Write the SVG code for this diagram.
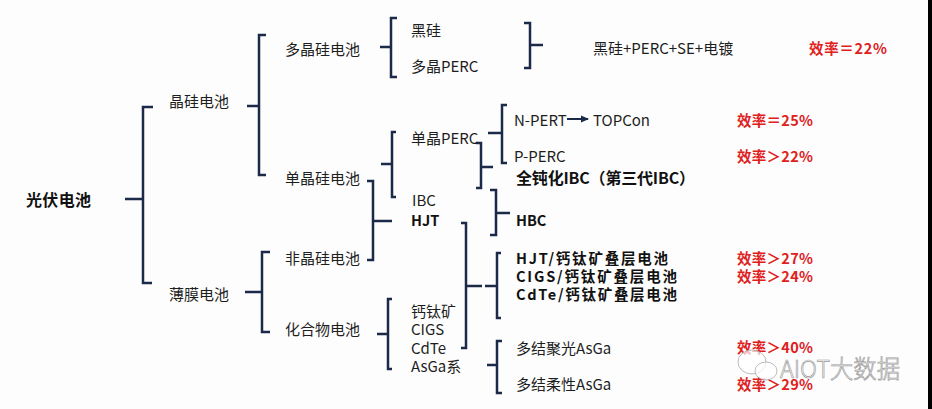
<svg xmlns="http://www.w3.org/2000/svg" width="932" height="409" viewBox="0 0 932 409">
<style>
text{font-family:"Noto Sans CJK SC","Liberation Sans",sans-serif;dominant-baseline:central;fill:#1e1e1e;font-size:15px}
.b{font-weight:bold;font-size:16px;fill:#111}
.t{font-weight:bold;font-size:14.5px;fill:#111}
.r{font-weight:bold;font-size:14.5px;fill:#e0201c}
.ln{fill:none;stroke:#1c2a4a;stroke-width:2.5;stroke-linejoin:miter;stroke-linecap:butt}
.wm{font-size:25px;font-weight:300;fill:#ffffff;fill-opacity:0.75;stroke:#9a9a9a;stroke-width:0.7}
</style>
<defs>
<marker id="ah" markerWidth="8" markerHeight="8" refX="7" refY="4" orient="auto" markerUnits="userSpaceOnUse">
<path d="M0,0.5 L8,4 L0,7.5 Z" fill="#1c2a4a"/>
</marker>
</defs>
<rect width="932" height="409" fill="#fdfdfd"/>
<rect x="928" y="0" width="4" height="409" fill="#000"/>
<g id="connectors" class="ln">
<path d="M125,199 H143 M153,107 H143 V283 H152"/>
<path d="M247,106 H259 M266,35 H259 V175 H266"/>
<path d="M245,292 H262 M270,252 H262 V332 H270"/>
<path d="M380,47 H391 M397,18 H391 V77 H397"/>
<path d="M524,23 H530 V68 H524 M530,45 H543"/>
<path d="M381,164 H392 M396,132 H392 V197 H396"/>
<path d="M476,143 H481 V188 H476 M481,167 H493"/>
<path d="M488,133 H502 M507,105 H502 V163 H507"/>
<path d="M367,181 H373 V260 H367 M373,221 H392"/>
<path d="M490,190 H496 V235 H490 M496,213 H510"/>
<path d="M461,223 H466 V348 H461 M466,286 H482 M485,286 H496"/>
<path d="M501,253 H497 V318 H501"/>
<path d="M377,334 H388 M392,299 H388 V369 H392"/>
<path d="M487,365 H497 M502,341 H497 V393 H502"/>
<path d="M567,119 H588" stroke-width="2" marker-end="url(#ah)"/>
</g>
<g id="n-pv"><text class="b" x="26" y="199" textLength="65" lengthAdjust="spacing">光伏电池</text></g>
<g id="n-jinggui"><text x="169" y="100">晶硅电池</text></g>
<g id="n-bomo"><text x="169" y="293">薄膜电池</text></g>
<g id="n-duojinggui"><text x="285" y="48">多晶硅电池</text></g>
<g id="n-danjinggui"><text x="285" y="177">单晶硅电池</text></g>
<g id="n-feijinggui"><text x="285" y="257">非晶硅电池</text></g>
<g id="n-huahewu"><text x="285" y="328">化合物电池</text></g>
<g id="n-heigui"><text x="411" y="29">黑硅</text></g>
<g id="n-duojingperc"><text x="411" y="65">多晶PERC</text></g>
<g id="n-heigui-combo"><text x="593" y="47">黑硅+PERC+SE+电镀</text></g>
<g id="n-danjingperc"><text x="411" y="137">单晶PERC</text></g>
<g id="n-ibc"><text x="412" y="199">IBC</text></g>
<g id="n-hjt"><text class="t" x="411" y="219" font-size="15">HJT</text></g>
<g id="n-npert"><text x="514" y="119">N-PERT</text></g>
<g id="n-topcon"><text x="593" y="119">TOPCon</text></g>
<g id="n-pperc"><text x="514" y="155">P-PERC</text></g>
<g id="n-quandun"><text class="b" x="516" y="177" textLength="179" lengthAdjust="spacing">全钝化IBC（第三代IBC）</text></g>
<g id="n-hbc"><text class="t" x="516" y="219" font-size="15">HBC</text></g>
<g id="n-hjt-pero"><text class="t" x="516" y="257" textLength="152" lengthAdjust="spacing">HJT/钙钛矿叠层电池</text></g>
<g id="n-cigs-pero"><text class="t" x="516" y="275" textLength="161" lengthAdjust="spacing">CIGS/钙钛矿叠层电池</text></g>
<g id="n-cdte-pero"><text class="t" x="516" y="293" textLength="161" lengthAdjust="spacing">CdTe/钙钛矿叠层电池</text></g>
<g id="n-gaitai"><text x="411" y="310">钙钛矿</text></g>
<g id="n-cigs"><text x="411" y="328">CIGS</text></g>
<g id="n-cdte"><text x="411" y="347">CdTe</text></g>
<g id="n-asga"><text x="411" y="365">AsGa系</text></g>
<g id="n-juguang"><text x="516" y="347">多结聚光AsGa</text></g>
<g id="n-rouxing"><text x="516" y="383">多结柔性AsGa</text></g>
<g id="eff">
<text class="r" x="809" y="47" textLength="78" lengthAdjust="spacing">效率＝22%</text>
<text class="r" x="737" y="119" textLength="76" lengthAdjust="spacing">效率＝25%</text>
<text class="r" x="737" y="155" textLength="76" lengthAdjust="spacing">效率＞22%</text>
<text class="r" x="737" y="257" textLength="76" lengthAdjust="spacing">效率＞27%</text>
<text class="r" x="737" y="275" textLength="76" lengthAdjust="spacing">效率＞24%</text>
<text class="r" x="737" y="346" textLength="76" lengthAdjust="spacing">效率＞40%</text>
<text class="r" x="737" y="383" textLength="76" lengthAdjust="spacing">效率＞29%</text>
</g>
<g id="watermark">
<ellipse cx="752" cy="362" rx="14" ry="12" fill="#fff" fill-opacity="0.7" stroke="#aaa" stroke-width="0.8"/>
<ellipse cx="766" cy="371" rx="11" ry="9" fill="#fff" fill-opacity="0.7" stroke="#aaa" stroke-width="0.8"/>
<text class="wm" x="780" y="367" textLength="120" lengthAdjust="spacingAndGlyphs">AIOT大数据</text>
</g>
</svg>
